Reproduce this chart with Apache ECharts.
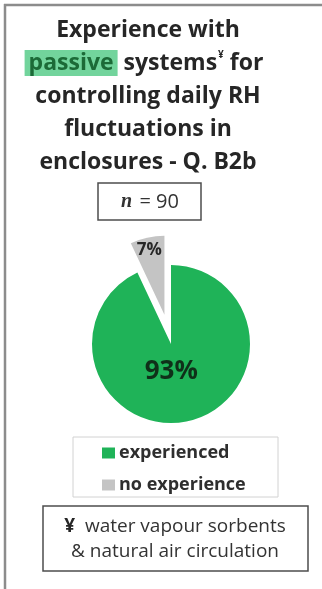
<!DOCTYPE html>
<html>
<head>
<meta charset="utf-8">
<script src="https://cdn.jsdelivr.net/npm/echarts@6/dist/echarts.min.js"></script>
<style>
  html, body { margin: 0; padding: 0; background: #ffffff; }
  #chart { width: 322px; height: 589px; }
</style>
</head>
<body>
<div id="chart"></div>
<script>
// Survey answers, Q. B2b
const categories = ['experienced', 'no experience'];
const shares = [93, 7];
const sliceColors = ['#1fb358', '#c4c4c4'];
const sampleSize = 90;
const titleLines = [
  'Experience with',
  '{h|passive} systems{s|¥} for',
  'controlling daily RH',
  'fluctuations in',
  'enclosures - Q. B2b'
];
const footnoteLines = ['{b|¥}  water vapour sorbents', '& natural air circulation'];

const FONT = '"Open Sans", sans-serif';
const chart = echarts.init(document.getElementById('chart'));

// title, one text element per line
const titleGraphics = titleLines.map(function (line, i) {
  return {
    type: 'text',
    x: i === 1 ? 144 : 148,
    y: 30 + i * 33,
    style: {
      text: line,
      font: 'bold 23px ' + FONT,
      fill: '#262626',
      align: 'center',
      verticalAlign: 'middle',
      rich: {
        h: {
          font: 'bold 23px ' + FONT,
          fill: '#1c6a37',
          backgroundColor: '#72d49c',
          padding: [2, 4, 1, 4]
        },
        s: {
          font: 'bold 10px ' + FONT,
          fill: '#262626',
          verticalAlign: 'top',
          padding: [0, 0, 10, 1]
        }
      }
    }
  };
});

const footnoteGraphics = footnoteLines.map(function (line, i) {
  return {
    type: 'text',
    x: 175,
    y: 527 + i * 25,
    style: {
      text: line,
      font: '19px ' + FONT,
      fill: '#333333',
      align: 'center',
      verticalAlign: 'middle',
      rich: { b: { font: 'bold 19px ' + FONT, fill: '#262626' } }
    }
  };
});

chart.setOption({
  animation: false,
  graphic: [
    // outer frame (top and left edges)
    { type: 'line', shape: { x1: 4, y1: 5, x2: 322, y2: 5 }, style: { stroke: '#8c8c8c', lineWidth: 2.5 } },
    { type: 'line', shape: { x1: 5, y1: 4, x2: 5, y2: 589 }, style: { stroke: '#8c8c8c', lineWidth: 2.5 } }
  ].concat(titleGraphics, [
    // sample size box
    { type: 'rect', shape: { x: 98, y: 183, width: 103, height: 37 }, style: { fill: '#ffffff', stroke: '#4d4d4d', lineWidth: 1.5 } },
    {
      type: 'text', x: 150, y: 202,
      style: {
        text: '{i|n} = ' + sampleSize,
        font: '20px ' + FONT,
        fill: '#333333',
        align: 'center',
        verticalAlign: 'middle',
        rich: { i: { font: 'italic bold 20px "Liberation Serif", serif', fill: '#333333', padding: [0, 2, 0, 0] } }
      }
    },
    // legend frame
    { type: 'rect', shape: { x: 73, y: 437, width: 205, height: 60 }, style: { fill: 'none', stroke: '#d2d2d2', lineWidth: 1 } },
    // footnote box
    { type: 'rect', shape: { x: 43, y: 506, width: 265, height: 65 }, style: { fill: '#ffffff', stroke: '#4d4d4d', lineWidth: 1.5 } }
  ], footnoteGraphics),
  legend: {
    orient: 'vertical',
    left: 102,
    top: 444,
    padding: 0,
    itemWidth: 13,
    itemHeight: 11,
    itemGap: 14,
    icon: 'rect',
    data: categories,
    textStyle: { fontFamily: FONT, fontWeight: 'bold', fontSize: 18, lineHeight: 16, color: '#2e2e2e', padding: [0, 0, 0, -1] }
  },
  series: [{
    type: 'pie',
    center: [171, 344],
    radius: 79,
    startAngle: 90,
    clockwise: true,
    selectedMode: 'single',
    selectedOffset: 30,
    silent: true,
    label: {
      show: true,
      position: 'inside',
      formatter: '{c}%',
      fontFamily: FONT,
      fontWeight: 'bold'
    },
    labelLine: { show: false },
    labelLayout: function (params) {
      return params.dataIndex === 0 ? { dx: -9, dy: -14 } : { dx: -6, dy: -23 };
    },
    data: categories.map(function (name, i) {
      return {
        name: name,
        value: shares[i],
        selected: i === 1,
        itemStyle: { color: sliceColors[i] },
        label: i === 0
          ? { fontSize: 26, color: '#0f3019' }
          : { fontSize: 17, color: '#262626' }
      };
    })
  }]
});
</script>
</body>
</html>
